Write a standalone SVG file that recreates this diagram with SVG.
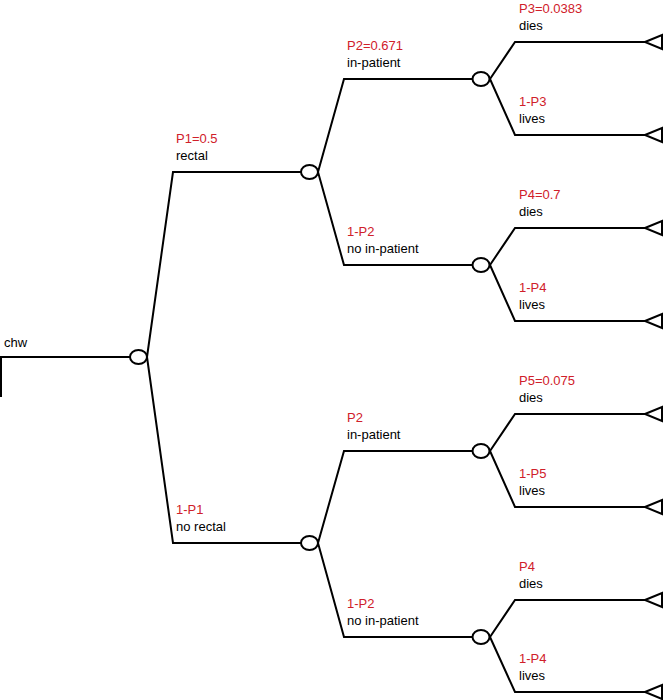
<svg xmlns="http://www.w3.org/2000/svg" width="664" height="700" viewBox="0 0 664 700">
<style>
.ln{fill:none;stroke:#000;stroke-width:2;stroke-linejoin:miter}
.nd{fill:#fff;stroke:#000;stroke-width:2}
text{font-family:"Liberation Sans",Arial,sans-serif;font-size:13px;fill:#000}
.p{fill:#d0202a}
</style>
<rect width="664" height="700" fill="#fff"/>
<g id="connectors">
<path class="ln" d="M1,397 V357 H130"/>
<path class="ln" d="M147,357 L173,172 H301"/>
<path class="ln" d="M147,357 L173,543 H301"/>
<path class="ln" d="M318,172 L344,79 H472"/>
<path class="ln" d="M318,172 L344,265 H472"/>
<path class="ln" d="M318,543 L344,451 H472"/>
<path class="ln" d="M318,543 L344,637 H472"/>
<path class="ln" d="M490,79 L515,42 H645"/>
<path class="ln" d="M490,79 L515,135 H645"/>
<path class="ln" d="M490,265 L515,228 H645"/>
<path class="ln" d="M490,265 L515,321 H645"/>
<path class="ln" d="M490,451 L515,414 H645"/>
<path class="ln" d="M490,451 L515,507 H645"/>
<path class="ln" d="M490,637 L515,600 H645"/>
<path class="ln" d="M490,637 L515,692 H645"/>
</g>
<g id="root"><text x="4" y="347">chw</text><ellipse class="nd" cx="138.5" cy="357" rx="8.5" ry="7"/></g>
<g id="n_rectal"><text class="p" x="176" y="143">P1=0.5</text><text x="176" y="160">rectal</text><ellipse class="nd" cx="309.5" cy="172" rx="8.5" ry="7"/></g>
<g id="n_norectal"><text class="p" x="176" y="514">1-P1</text><text x="176" y="531">no rectal</text><ellipse class="nd" cx="309.5" cy="543" rx="8.5" ry="7"/></g>
<g id="n_r_in"><text class="p" x="347" y="50">P2=0.671</text><text x="347" y="67">in-patient</text><ellipse class="nd" cx="481" cy="79" rx="8.5" ry="7"/></g>
<g id="n_r_noin"><text class="p" x="347" y="236">1-P2</text><text x="347" y="253">no in-patient</text><ellipse class="nd" cx="481" cy="265" rx="8.5" ry="7"/></g>
<g id="n_nr_in"><text class="p" x="347" y="422">P2</text><text x="347" y="439">in-patient</text><ellipse class="nd" cx="481" cy="451" rx="8.5" ry="7"/></g>
<g id="n_nr_noin"><text class="p" x="347" y="608">1-P2</text><text x="347" y="625">no in-patient</text><ellipse class="nd" cx="481" cy="637" rx="8.5" ry="7"/></g>
<g id="leaf1"><text class="p" x="519" y="13">P3=0.0383</text><text x="519" y="30">dies</text><polygon class="nd" points="645,42 662,35 662,49"/></g>
<g id="leaf2"><text class="p" x="519" y="106">1-P3</text><text x="519" y="123">lives</text><polygon class="nd" points="645,135 662,128 662,142"/></g>
<g id="leaf3"><text class="p" x="519" y="199">P4=0.7</text><text x="519" y="216">dies</text><polygon class="nd" points="645,228 662,221 662,235"/></g>
<g id="leaf4"><text class="p" x="519" y="292">1-P4</text><text x="519" y="309">lives</text><polygon class="nd" points="645,321 662,314 662,328"/></g>
<g id="leaf5"><text class="p" x="519" y="385">P5=0.075</text><text x="519" y="402">dies</text><polygon class="nd" points="645,414 662,407 662,421"/></g>
<g id="leaf6"><text class="p" x="519" y="478">1-P5</text><text x="519" y="495">lives</text><polygon class="nd" points="645,507 662,500 662,514"/></g>
<g id="leaf7"><text class="p" x="519" y="571">P4</text><text x="519" y="588">dies</text><polygon class="nd" points="645,600 662,593 662,607"/></g>
<g id="leaf8"><text class="p" x="519" y="663">1-P4</text><text x="519" y="680">lives</text><polygon class="nd" points="645,692 662,685 662,699"/></g>
</svg>
